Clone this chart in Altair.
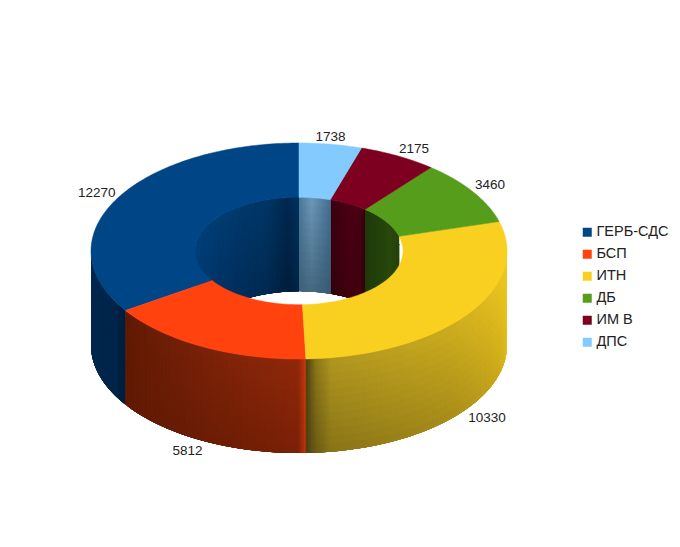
import numpy as np
import pandas as pd
import altair as alt

parties = ["ГЕРБ-СДС", "БСП", "ИТН", "ДБ", "ИМ В", "ДПС"]
votes = [12270, 5812, 10330, 3460, 2175, 1738]
colors = ["#004586", "#ff420e", "#f9d01f", "#579d1c", "#7e0021", "#83caff"]

# Shading stops per slice wall: (position left→right on screen, top colour, bottom colour)
outer_shade = {
    "ГЕРБ-СДС": [(0, "#002a50", "#002a50"), (0.85, "#00254a", "#00254a"), (0.95, "#001f3e", "#001f3e"), (1, "#001f3e", "#001f3e")],
    "БСП": [(0, "#601a04", "#601a04"), (0.65, "#82240a", "#6e1e05"), (0.965, "#902809", "#7a2108"), (0.99, "#b8340d", "#a82f0c"), (1, "#cf3c10", "#c0380e")],
    "ИТН": [(0, "#4a3e10", "#4a3e10"), (0.03, "#8a7518", "#6a5a14"), (0.08, "#b09620", "#887418"), (0.5, "#cdac1e", "#a68c1a"), (0.8, "#e8c220", "#c9a81c"), (1, "#f6ce20", "#e6c01e")],
}
inner_shade = {
    "ГЕРБ-СДС": [(0, "#004280", "#003c72"), (0.5, "#003b70", "#003060"), (0.8, "#003666", "#002a50"), (0.93, "#002850", "#001e3c"), (1, "#003360", "#002444")],
    "ДПС": [(0, "#4a7898", "#3d6078"), (0.4, "#6d98b8", "#46687f"), (1, "#446f90", "#385a74")],
    "ИМ В": [(0, "#3a0010", "#33000e"), (0.5, "#4a0014", "#42000f"), (0.9, "#470013", "#3f0010"), (1, "#300009", "#2c0008")],
    "ДБ": [(0, "#1e3a0a", "#1e3a0a"), (0.6, "#29490e", "#29490e"), (1, "#25430c", "#25430c")],
}
label_offsets = [(-19, -6.5), (-16, 10.5), (20, 9.5), (17, -6.5), (16, -7.5), (0, -7.5)]

cx, cy, rx, ry = 299.0, 251.0, 208.0, 108.0
irx, iry, depth = 104.0, 53.7, 94.0

total = sum(votes)
# angles clockwise from 12 o'clock; slices run anticlockwise starting at the top
ends = 360 - np.cumsum(votes) / total * 360
starts = np.r_[360, ends[:-1]]


def pt(rxx, ryy, deg, dy=0.0):
    a = np.radians(deg)
    return cx + rxx * np.sin(a), cy - ryy * np.cos(a) + dy


def hexmix(c1, c2, t):
    a = np.array([int(c1[i:i + 2], 16) for i in (1, 3, 5)], float)
    b = np.array([int(c2[i:i + 2], 16) for i in (1, 3, 5)], float)
    v = a + (b - a) * t
    return "#%02x%02x%02x" % tuple(int(round(x)) for x in v)


def shade(stops, u, v):
    us = [s[0] for s in stops]
    i = min(max(np.searchsorted(us, u, side="right") - 1, 0), len(us) - 2)
    t = (u - us[i]) / (us[i + 1] - us[i])
    top = hexmix(stops[i][1], stops[i + 1][1], t)
    bot = hexmix(stops[i][2], stops[i + 1][2], t)
    return hexmix(top, bot, v)


rows = []
pid = 0


def poly(points, fill, layer, party=None):
    global pid
    pid += 1
    for k, (x, y) in enumerate(points + points[:1]):
        rows.append(dict(id=pid, k=k, x=round(x, 2), y=round(y, 2), c=fill, layer=layer, party=party))


NROW = 12


def wall(name, stops, rxx, ryy, a0, a1, step, layer):
    """Cells run left→right and top→bottom; each one overlaps the next so no seams show."""
    n = max(int(abs(a1 - a0) / step), 2)
    an = np.linspace(a0, a1, n + 1)
    for i in range(n):
        j = min(i + 4, n)
        u = (i + 0.5) / n
        for r in range(NROW):
            v0, v1 = r / NROW, min(r + 2, NROW) / NROW
            p = [pt(rxx, ryy, an[i], depth * v0), pt(rxx, ryy, an[j], depth * v0),
                 pt(rxx, ryy, an[j], depth * v1), pt(rxx, ryy, an[i], depth * v1)]
            poly(p, shade(stops, u, (r + 0.5) / NROW), layer)


for name, s, e in zip(parties, starts, ends):
    if name in inner_shade:  # far half of the hole
        if s > 270:
            wall(name, inner_shade[name], irx, iry, max(e, 270), s, 0.75, "inner")
        else:
            wall(name, inner_shade[name], irx, iry, max(e, 0), min(s, 90), 0.75, "inner")
    if name in outer_shade:  # near half of the rim, screen left → right
        wall(name, outer_shade[name], rx, ry, min(s, 270), max(e, 90), 0.5, "outer")

walls = pd.DataFrame(rows)
rows = []
pid = 100000
for name, s, e in zip(parties, starts, ends):
    an = np.linspace(e, s, max(int((s - e) / 1.0), 2) + 1)
    p = [pt(rx, ry, a) for a in an] + [pt(irx, iry, a) for a in an[::-1]]
    poly(p, None, "top", name)
top = pd.DataFrame(rows)

mids = (starts + ends) / 2
lab = []
for v, m, (dx, dy) in zip(votes, mids, label_offsets):
    x, y = pt(rx, ry, m, depth if 90 < m < 270 else 0)
    lab.append(dict(x=x + dx, y=y + dy, t=str(v)))
labels = pd.DataFrame(lab)

X = alt.X("x:Q", scale=alt.Scale(domain=[8, 672]), axis=None)
Y = alt.Y("y:Q", scale=alt.Scale(domain=[539, 8]), axis=None)

alt.data_transformers.disable_max_rows()

wall_layer = alt.Chart(walls).mark_line(strokeWidth=0, interpolate="linear").encode(
    x=X, y=Y, detail="id:N", order="k:Q",
    fill=alt.Fill("c:N", scale=None),
)
top_layer = alt.Chart(top).mark_line(strokeWidth=0.5, interpolate="linear").encode(
    x=X, y=Y, detail="id:N", order="k:Q",
    fill=alt.Fill("party:N", scale=alt.Scale(domain=parties, range=colors), sort=parties,
                  legend=alt.Legend(title=None, orient="none", legendX=572, legendY=217,
                                    symbolType="square", symbolSize=81, symbolStrokeWidth=0,
                                    labelFont="Liberation Sans", labelFontSize=14.5, labelColor="#222222",
                                    labelOffset=2, rowPadding=7, labelLimit=200)),
    stroke=alt.Stroke("party:N", scale=alt.Scale(domain=parties, range=colors), legend=None),
)
text_layer = alt.Chart(labels).mark_text(font="Liberation Sans", fontSize=13.5, color="#222222",
                                         align="center", baseline="middle").encode(x=X, y=Y, text="t:N")

chart = alt.layer(wall_layer, top_layer, text_layer).resolve_scale(fill="independent", stroke="independent").properties(
    width=664, height=531, padding=0, background="white",
    autosize=alt.AutoSizeParams(type="none"),
).configure_view(stroke=None)

chart.save("out.html", embed_options={"renderer": "svg", "actions": False})
